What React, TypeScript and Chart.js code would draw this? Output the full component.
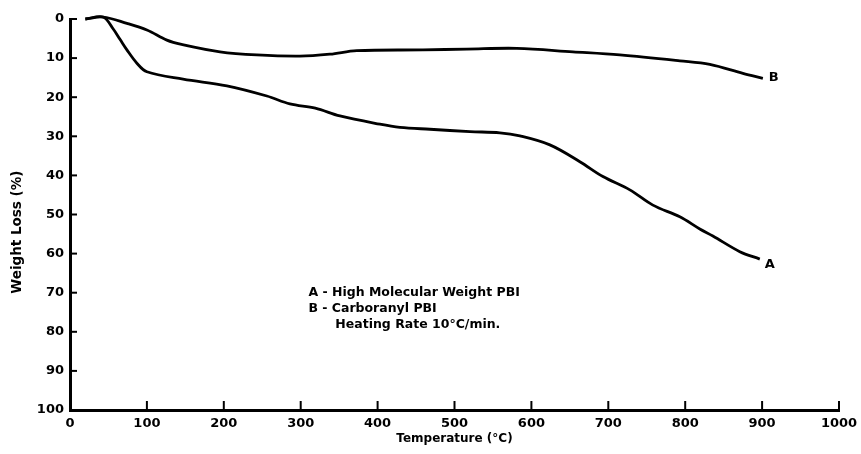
import React, { useEffect, useRef } from "react";
import { Chart, registerables } from "chart.js";

Chart.register(...registerables);

// Curve A – High Molecular Weight PBI
const tempA = [20, 43, 56, 65, 74, 87, 100, 147, 204, 256, 286, 319, 351, 403, 429, 468, 520, 559, 585, 624, 663, 693, 728, 758, 793, 819, 836, 871, 897];
const lossA = [0, -0.5, 2.5, 5.2, 7.9, 11.3, 13.5, 15.4, 17.1, 19.7, 21.7, 22.8, 24.8, 26.9, 27.7, 28.2, 28.8, 29.1, 29.9, 32.2, 36.5, 40.3, 43.7, 47.6, 50.6, 53.7, 55.5, 59.5, 61.4];

// Curve B – Carboranyl PBI
const tempB = [20, 43, 74, 100, 126, 145, 195, 243, 299, 338, 373, 459, 516, 581, 654, 715, 793, 832, 875, 901];
const lossB = [0, -0.5, 1.1, 2.8, 5.4, 6.5, 8.4, 9.2, 9.5, 9.0, 8.1, 7.9, 7.7, 7.5, 8.4, 9.2, 10.7, 11.6, 13.9, 15.2];

const xTicks = [0, 100, 200, 300, 400, 500, 600, 700, 800, 900, 1000];
const yTicks = [0, 10, 20, 30, 40, 50, 60, 70, 80, 90, 100];

const xTitle = "Temperature (°C)";
const yTitle = "Weight Loss (%)";
const curveLabels = ["A", "B"];
const curveLabelX = [910, 915];
const curveLabelY = [62.7, 15.1];
const noteLines = ["A - High Molecular Weight PBI", "B - Carboranyl PBI", "Heating Rate 10°C/min."];
const noteX = [310, 310, 345];
const noteY = [70, 74.1, 78.2];

const FONT = "'DejaVu Sans', sans-serif";

const toPts = (xs: number[], ys: number[]) => xs.map((x, i) => ({ x, y: ys[i] }));

const decor = {
  id: "decor",
  afterDraw(chart: any) {
    const { ctx, chartArea, scales } = chart;
    const xs = scales.x;
    const ys = scales.y;
    ctx.save();
    ctx.strokeStyle = "#000";
    ctx.lineWidth = 2;
    // inward ticks
    yTicks.forEach((v) => {
      const py = ys.getPixelForValue(v);
      ctx.beginPath();
      ctx.moveTo(chartArea.left, py);
      ctx.lineTo(chartArea.left + 7, py);
      ctx.stroke();
    });
    xTicks.forEach((v) => {
      const px = xs.getPixelForValue(v);
      ctx.beginPath();
      ctx.moveTo(px, chartArea.bottom);
      ctx.lineTo(px, chartArea.bottom - 9);
      ctx.stroke();
    });
    ctx.fillStyle = "#000";
    // axis titles
    ctx.font = `bold 12px ${FONT}`;
    ctx.textAlign = "center";
    ctx.textBaseline = "middle";
    ctx.fillText(xTitle, (chartArea.left + chartArea.right) / 2, chartArea.bottom + 29);
    ctx.save();
    ctx.font = `bold 13.5px ${FONT}`;
    ctx.translate(17, ys.getPixelForValue(54.5));
    ctx.rotate(-Math.PI / 2);
    ctx.fillText(yTitle, 0, 0);
    ctx.restore();
    // curve labels
    ctx.font = `bold 13px ${FONT}`;
    curveLabels.forEach((t, i) => {
      ctx.fillText(t, xs.getPixelForValue(curveLabelX[i]), ys.getPixelForValue(curveLabelY[i]));
    });
    // note
    ctx.font = `bold 12.5px ${FONT}`;
    ctx.textAlign = "left";
    noteLines.forEach((t, i) => {
      ctx.fillText(t, xs.getPixelForValue(noteX[i]), ys.getPixelForValue(noteY[i]));
    });
    ctx.restore();
  },
};

export default function App() {
  const ref = useRef<HTMLCanvasElement | null>(null);
  useEffect(() => {
    if (!ref.current) return;
    const chart = new Chart(ref.current, {
      type: "line",
      data: {
        datasets: [
          {
            label: "A",
            data: toPts(tempA, lossA),
            borderColor: "#000",
            borderWidth: 2.8,
            pointRadius: 0,
            tension: 0.35,
            fill: false,
          },
          {
            label: "B",
            data: toPts(tempB, lossB),
            borderColor: "#000",
            borderWidth: 2.8,
            pointRadius: 0,
            tension: 0.35,
            fill: false,
          },
        ],
      },
      options: {
        responsive: false,
        animation: false,
        clip: false as any,
        layout: { padding: { left: 0, right: 22, top: 19, bottom: 0 } },
        plugins: { legend: { display: false }, tooltip: { enabled: false } },
        scales: {
          x: {
            type: "linear",
            min: 0,
            max: 1000,
            afterFit: (s: any) => {
              s.height = 44;
            },
            afterBuildTicks: (s: any) => {
              s.ticks = xTicks.map((v) => ({ value: v }));
            },
            grid: { display: false },
            border: { display: true, color: "#000", width: 3 },
            ticks: {
              color: "#000",
              padding: -2,
              maxRotation: 0,
              callback: (v: any) => String(v),
              font: { family: FONT, weight: "bold", size: 13 },
            },
          },
          y: {
            type: "linear",
            reverse: true,
            min: 0,
            max: 100,
            afterFit: (s: any) => {
              s.width = 70;
            },
            afterBuildTicks: (s: any) => {
              s.ticks = yTicks.map((v) => ({ value: v }));
            },
            grid: { display: false },
            border: { display: true, color: "#000", width: 3 },
            ticks: {
              color: "#000",
              padding: -2,
              callback: (v: any) => String(v),
              font: { family: FONT, weight: "bold", size: 13 },
            },
          },
        },
      },
      plugins: [decor],
    });
    return () => chart.destroy();
  }, []);
  return (
    <div style={{ position: "absolute", left: 0, top: 0, width: 861, height: 454, background: "#fff" }}>
      <canvas ref={ref} width={861} height={454} />
    </div>
  );
}
